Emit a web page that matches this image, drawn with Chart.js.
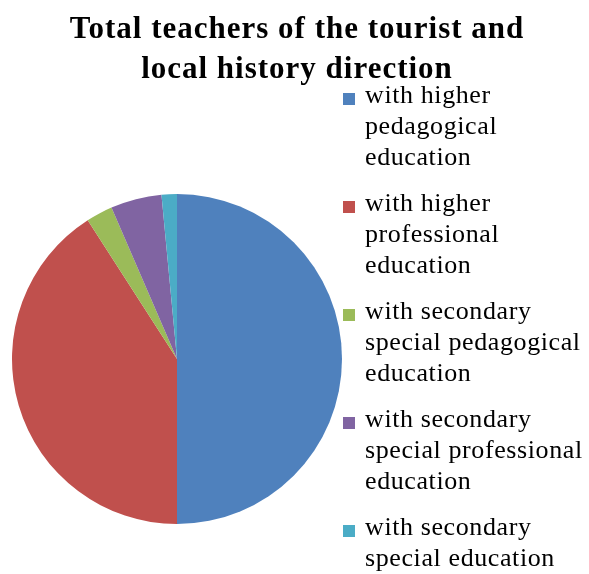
<!DOCTYPE html>
<html>
<head>
<meta charset="utf-8">
<script src="https://cdn.jsdelivr.net/npm/chart.js@4"></script>
<style>
    body { margin: 0; background: #fff; }
    #wrap { position: relative; width: 589px; height: 574px; overflow: hidden; }
    #chart { position: absolute; left: 0; top: 0; }
    #title {
        position: absolute; left: 0; top: 8px; width: 594px;
        text-align: center; font: bold 31px "Liberation Serif", "Times New Roman", serif;
        line-height: 40px; letter-spacing: 1px; color: #000;
    }
    #legend {
        position: absolute; left: 343px; top: 79px;
        font: 26px "Liberation Serif", "Times New Roman", serif;
        line-height: 31px; letter-spacing: 0.6px; color: #000;
    }
    .item { position: relative; padding-left: 22px; white-space: nowrap; }
    .box { position: absolute; left: 0; top: 14px; width: 12px; height: 12px; }
</style>
</head>
<body>
<div id="wrap">
    <canvas id="chart" width="589" height="574"></canvas>
    <div id="title">Total teachers of the tourist and<br>local history direction</div>
    <div id="legend"></div>
</div>
<script>
// categories (legend lines), values in percent, colours
const categories = [
    ["with higher", "pedagogical", "education"],
    ["with higher", "professional", "education"],
    ["with secondary", "special pedagogical", "education"],
    ["with secondary", "special professional", "education"],
    ["with secondary", "special education"],
];
const values = [50, 40.9, 2.6, 5.0, 1.5];
const colors = ["#4F81BD", "#C0504D", "#9BBB59", "#8064A2", "#4BACC6"];

const config = {
    type: "pie",
    data: {
        labels: categories,
        datasets: [
            {
                data: values,
                backgroundColor: colors,
                borderWidth: 0,
                hoverOffset: 0,
            },
        ],
    },
    options: {
        responsive: false,
        animation: false,
        layout: {
            padding: { left: 12, right: 247, top: 194, bottom: 50 },
        },
        plugins: {
            legend: { display: false },
            title: { display: false },
            tooltip: { enabled: false },
        },
    },
};

const myChart = new Chart(document.getElementById("chart"), config);

// html legend so the labels can wrap like the original
const legend = document.getElementById("legend");
myChart.data.labels.forEach((lines, i) => {
    const item = document.createElement("div");
    item.className = "item";
    item.style.marginBottom = (108 - lines.length * 31) + "px";
    const box = document.createElement("span");
    box.className = "box";
    box.style.background = myChart.data.datasets[0].backgroundColor[i];
    item.appendChild(box);
    lines.forEach((line, j) => {
        if (j > 0) item.appendChild(document.createElement("br"));
        item.appendChild(document.createTextNode(line));
    });
    legend.appendChild(item);
});
</script>
</body>
</html>
